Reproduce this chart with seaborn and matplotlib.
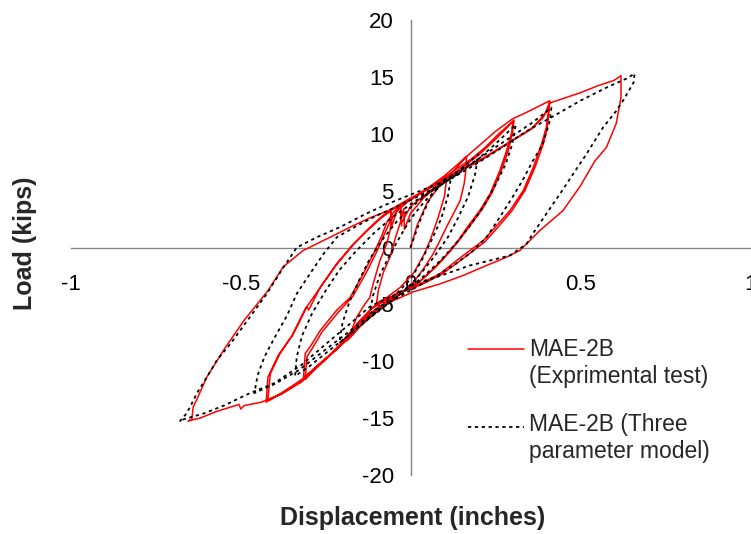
import pandas as pd
import seaborn as sns
import matplotlib.pyplot as plt
from matplotlib.lines import Line2D

test_disp = [
    0.0, 0.02, 0.05, 0.08, 0.106,
    0.10, 0.08, 0.06, 0.04, 0.01, -0.03, -0.07, -0.10,
    -0.095, -0.08, -0.06, -0.045, -0.03, -0.02, -0.018, 0.0, 0.04, 0.08, 0.12, 0.165,
    0.162, 0.158, 0.146, 0.125, 0.106, 0.085, 0.067, 0.04, 0.01, -0.03, -0.07, -0.11, -0.15, -0.18, -0.188,
    -0.17, -0.158, -0.135, -0.12, -0.11, -0.09, -0.07, -0.06, -0.055, -0.058, -0.055, -0.04, -0.01, 0.03,
    0.08, 0.13, 0.18, 0.22, 0.26, 0.302,
    0.298, 0.283, 0.263, 0.234, 0.204, 0.17, 0.14, 0.11, 0.07, 0.03, -0.01, -0.06, -0.12, -0.17, -0.21,
    -0.25, -0.29, -0.315,
    -0.31, -0.296, -0.266, -0.217, -0.178, -0.139, -0.11, -0.085, -0.07, -0.05, -0.03, -0.026, 0.0, 0.05,
    0.1, 0.15, 0.2, 0.25, 0.29, 0.305,
    0.30, 0.288, 0.268, 0.24, 0.21, 0.175, 0.145, 0.115, 0.075, 0.035, -0.005, -0.055, -0.115, -0.165,
    -0.205, -0.245, -0.285, -0.31,
    -0.305, -0.29, -0.26, -0.21, -0.17, -0.13, -0.10, -0.078, -0.06, -0.04, -0.01, 0.04, 0.1, 0.15, 0.2,
    0.25, 0.3, 0.35, 0.40, 0.41,
    0.405, 0.40, 0.386, 0.361, 0.332, 0.293, 0.253, 0.214, 0.175, 0.136, 0.087, 0.028, 0.0, -0.06, -0.11,
    -0.158, -0.188, -0.22, -0.26, -0.32, -0.38, -0.42,
    -0.413, -0.384, -0.345, -0.305, -0.30, -0.266, -0.217, -0.168, -0.129, -0.09, -0.06, -0.02, 0.04, 0.1,
    0.15, 0.204, 0.253, 0.30, 0.35, 0.39, 0.40, 0.41,
    0.407, 0.402, 0.39, 0.366, 0.337, 0.298, 0.258, 0.219, 0.18, 0.14, 0.09, 0.03, -0.01, -0.065, -0.115,
    -0.16, -0.19, -0.23, -0.27, -0.33, -0.39, -0.425,
    -0.42, -0.39, -0.35, -0.31, -0.27, -0.22, -0.17, -0.13, -0.09, -0.05, 0.0, 0.05, 0.1, 0.15, 0.21,
    0.26, 0.31, 0.36, 0.40, 0.41, 0.46, 0.50, 0.55, 0.60, 0.62,
    0.62, 0.606, 0.577, 0.543, 0.499, 0.449, 0.381, 0.322, 0.283, 0.224, 0.155, 0.087, 0.008, -0.06, -0.12,
    -0.18, -0.22, -0.26, -0.32, -0.38, -0.44, -0.49, -0.50, -0.505, -0.57, -0.62, -0.655,
    -0.644, -0.64, -0.63, -0.60, -0.55, -0.49, -0.42, -0.375, -0.316, -0.237, -0.17, -0.12, -0.06, -0.03,
    -0.026,
]
test_load = [
    0.0, 2.0, 4.0, 5.2, 6.0,
    4.5, 2.5, 0.8, -0.6, -2.2, -3.5, -4.4, -4.9,
    -3.8, -2.2, -0.8, 0.8, 2.2, 3.4, 1.6, 3.0, 4.4, 5.4, 6.5, 8.0,
    6.5, 5.6, 4.1, 2.9, 1.8, 0.5, -0.55, -1.8, -3.0, -4.1, -5.0, -5.9, -7.0, -8.0, -8.2,
    -7.0, -6.1, -5.0, -4.4, -3.2, -1.14, 0.32, 1.5, 2.66, 3.3, 1.9, 3.2, 4.0, 4.8,
    5.7, 6.8, 7.8, 8.8, 10.0, 11.1,
    10.1, 8.5, 6.75, 4.7, 3.25, 1.9, 0.6, -0.5, -1.8, -2.9, -3.7, -4.6, -5.8, -7.2, -8.6,
    -9.8, -10.9, -11.4,
    -9.3, -8.75, -7.3, -5.5, -4.4, -2.3, -0.6, 1.0, 2.2, 3.1, 3.7, 2.2, 3.6, 4.8,
    5.9, 7.0, 8.1, 9.5, 10.7, 11.2,
    10.0, 8.5, 6.8, 4.8, 3.3, 1.9, 0.7, -0.4, -1.7, -2.8, -3.6, -4.5, -5.7, -7.1,
    -8.5, -9.7, -10.8, -11.6,
    -9.6, -8.9, -7.4, -5.6, -4.3, -2.2, -0.4, 1.1, 2.3, 3.2, 4.0, 5.0, 6.3, 7.6, 8.9,
    10.2, 11.3, 12.0, 12.75, 12.9,
    11.75, 10.55, 9.1, 7.0, 5.0, 3.25, 1.9, 0.6, -0.26, -1.14, -2.3, -3.2, -3.5, -4.36, -5.2,
    -6.7, -8.0, -9.0, -10.0, -11.6, -12.8, -13.4,
    -11.1, -9.3, -7.6, -5.2, -5.5, -3.5, -1.4, 0.32, 1.5, 2.6, 3.3, 4.0, 5.0, 5.9,
    6.8, 7.6, 8.5, 9.4, 10.3, 11.4, 12.0, 12.8,
    11.6, 10.4, 9.0, 7.0, 5.0, 3.2, 1.8, 0.5, -0.4, -1.3, -2.4, -3.3, -3.7, -4.5, -5.4,
    -6.9, -8.2, -9.3, -10.3, -11.9, -13.0, -13.6,
    -11.4, -9.5, -7.8, -5.4, -3.7, -1.6, 0.2, 1.4, 2.5, 3.4, 4.2, 5.1, 6.0, 6.9, 7.8,
    8.7, 9.6, 10.5, 11.9, 12.7, 13.2, 13.6, 14.2, 14.7, 15.1,
    13.2, 10.9, 8.8, 7.6, 5.35, 3.24, 1.49, -0.26, -0.85, -1.58, -2.46, -3.2, -3.9, -4.8, -6.0,
    -7.9, -9.0, -10.1, -11.8, -12.9, -13.6, -13.9, -14.2, -13.8, -14.4, -15.0, -15.25,
    -15.1, -14.0, -13.4, -11.4, -9.0, -6.4, -3.8, -1.7, -0.26, 0.9, 1.9, 2.6, 3.3, 3.7,
    1.9,
]

# Three parameter model path
model_disp = [
    0.0, 0.03, 0.06, 0.10, 0.12,
    0.11, 0.09, 0.06, 0.03, 0.0, -0.04, -0.08, -0.12,
    -0.11, -0.09, -0.06, -0.03, 0.0, 0.04, 0.08, 0.12, 0.16, 0.20,
    0.19, 0.17, 0.14, 0.11, 0.07, 0.03, -0.01, -0.06, -0.12, -0.17, -0.21,
    -0.20, -0.18, -0.15, -0.12, -0.08, -0.04, 0.0, 0.05, 0.1, 0.15, 0.2, 0.25, 0.31,
    0.30, 0.28, 0.25, 0.215, 0.175, 0.135, 0.09, 0.04, -0.01, -0.07, -0.13, -0.19, -0.25, -0.30, -0.34,
    -0.335, -0.32, -0.29, -0.25, -0.21, -0.16, -0.11, -0.06, 0.0, 0.06, 0.12, 0.18, 0.24, 0.30, 0.36,
    0.415,
    0.41, 0.39, 0.36, 0.33, 0.30, 0.263, 0.224, 0.18, 0.13, 0.07, 0.01, -0.05, -0.12, -0.19, -0.26,
    -0.33, -0.40, -0.46,
    -0.45, -0.43, -0.40, -0.364, -0.335, -0.296, -0.256, -0.217, -0.158, -0.1, -0.04, 0.03, 0.1, 0.18,
    0.26, 0.34, 0.43, 0.50, 0.58, 0.64, 0.66,
    0.657, 0.626, 0.606, 0.567, 0.518, 0.479, 0.44, 0.40, 0.36, 0.342, 0.293, 0.24, 0.175, 0.077, 0.008,
    -0.04, -0.12, -0.178, -0.25, -0.32, -0.40, -0.48, -0.55, -0.61, -0.668, -0.68,
    -0.66, -0.649, -0.629, -0.60, -0.57, -0.53, -0.48, -0.423, -0.374, -0.335, -0.276, -0.207, -0.129,
    -0.07, -0.02, 0.03, 0.08, 0.15,
]
model_load = [
    0.0, 2.5, 4.5, 6.0, 6.3,
    4.5, 2.5, 0.5, -1.3, -2.8, -4.0, -5.0, -5.8,
    -4.2, -2.4, -0.6, 1.0, 2.5, 4.0, 5.2, 6.3, 7.2, 8.2,
    6.4, 4.5, 2.6, 0.9, -0.8, -2.3, -3.6, -4.8, -6.2, -7.4, -8.4,
    -6.6, -4.8, -2.8, -1.0, 0.8, 2.3, 3.5, 4.7, 5.7, 6.7, 7.8, 9.1, 10.8,
    9.1, 7.3, 5.5, 3.6, 1.9, 0.4, -1.1, -2.5, -3.7, -5.0, -6.4, -7.9, -9.3, -10.5, -11.3,
    -9.6, -7.8, -5.8, -3.8, -2.0, -0.3, 1.2, 2.5, 3.8, 5.0, 6.2, 7.4, 8.6, 9.8, 11.0,
    12.3,
    11.1, 9.1, 7.6, 5.9, 4.4, 2.66, 0.9, -0.4, -1.5, -2.6, -3.6, -4.6, -6.0, -7.6, -9.2,
    -10.8, -12.0, -12.8,
    -11.2, -9.6, -7.9, -6.0, -4.06, -2.3, -0.55, 0.9, 1.9, 2.8, 3.6, 4.6, 5.7, 7.1,
    8.6, 10.2, 11.7, 12.9, 14.1, 14.9, 15.3,
    14.5, 12.9, 12.0, 10.55, 8.2, 6.46, 4.7, 2.96, 1.2, 0.32, -0.7, -1.1, -1.58, -2.6, -3.2,
    -4.06, -5.2, -6.7, -8.5, -10.3, -11.9, -12.9, -13.9, -14.6, -15.1, -15.3,
    -14.6, -14.0, -12.8, -11.4, -9.9, -8.45, -6.4, -4.06, -1.73, 0.0, 0.9, 1.8, 3.0,
    3.8, 4.4, 5.0, 5.6, 6.6,
]

x_ticks = [-1, -0.5, 0, 0.5, 1]
x_tick_labels = ["-1", "-0.5", "0", "0.5", "1"]
y_ticks = [-20, -15, -10, -5, 0, 5, 10, 15, 20]

test_label = "MAE-2B\n(Exprimental test)"
model_label = "MAE-2B (Three\nparameter model)"

RED = "#ff0000"
AXIS_GRAY = "#868686"
MODEL_DASH = (0, (1.8, 2.0))

sns.set_style("white")
plt.rcParams["font.family"] = ["Liberation Sans", "DejaVu Sans"]
plt.rcParams["axes.unicode_minus"] = False

df_test = pd.DataFrame({"disp": test_disp, "load": test_load})
df_model = pd.DataFrame({"disp": model_disp, "load": model_load})

W, H = 751, 534
fig = plt.figure(figsize=(W / 100, H / 100), dpi=100)
ax = fig.add_axes([71 / W, 1 - 475 / H, 679 / W, 455 / H])

sns.lineplot(data=df_test, x="disp", y="load", sort=False, estimator=None,
             color=RED, lw=1.1, ax=ax)
sns.lineplot(data=df_model, x="disp", y="load", sort=False, estimator=None,
             color="black", lw=1.3, linestyle=MODEL_DASH, ax=ax)

ax.set_xlim(-1, 1)
ax.set_ylim(-20, 20)
ax.set_xticks(x_ticks)
ax.set_xticklabels(x_tick_labels)
ax.set_yticks(y_ticks)
ax.set_yticklabels([str(v) for v in y_ticks])

# axes crossing at the origin, Excel style
for side in ["top", "right"]:
    ax.spines[side].set_visible(False)
for side in ["left", "bottom"]:
    ax.spines[side].set_position(("data", 0))
    ax.spines[side].set_color(AXIS_GRAY)
    ax.spines[side].set_linewidth(1.0)
    ax.spines[side].set_zorder(0.5)
ax.tick_params(axis="both", direction="out", length=5, width=1.0, color=AXIS_GRAY,
               labelsize=16, labelcolor="black")
ax.tick_params(axis="x", pad=14)
ax.tick_params(axis="y", pad=7)

ax.set_xlabel("Displacement (inches)", fontsize=18, fontweight="bold")
ax.set_ylabel("Load (kips)", fontsize=18, fontweight="bold")
ax.xaxis.set_label_coords((413 - 71) / 679, (475 - 518) / 455)
ax.yaxis.set_label_coords((25 - 71) / 679, (475 - 243) / 455)
ax.xaxis.label.set_va("center")
ax.yaxis.label.set_va("center")

# legend drawn by hand so the key sits on the first line of each label
def fx(px):
    return px / W

def fy(py):
    return 1 - py / H

fig.add_artist(Line2D([fx(468), fx(524)], [fy(349), fy(349)], color=RED, lw=1.1,
                      transform=fig.transFigure))
fig.add_artist(Line2D([fx(468), fx(524)], [fy(427), fy(427)], color="black", lw=1.3,
                      linestyle=MODEL_DASH, transform=fig.transFigure))
for (first, second), top in zip([test_label.split("\n"), model_label.split("\n")], [356, 431]):
    fig.text(fx(529), fy(top), first, fontsize=16.5, va="baseline", ha="left")
    fig.text(fx(529), fy(top + 27), second, fontsize=16.5, va="baseline", ha="left")

fig.savefig("out.png", dpi=100)
